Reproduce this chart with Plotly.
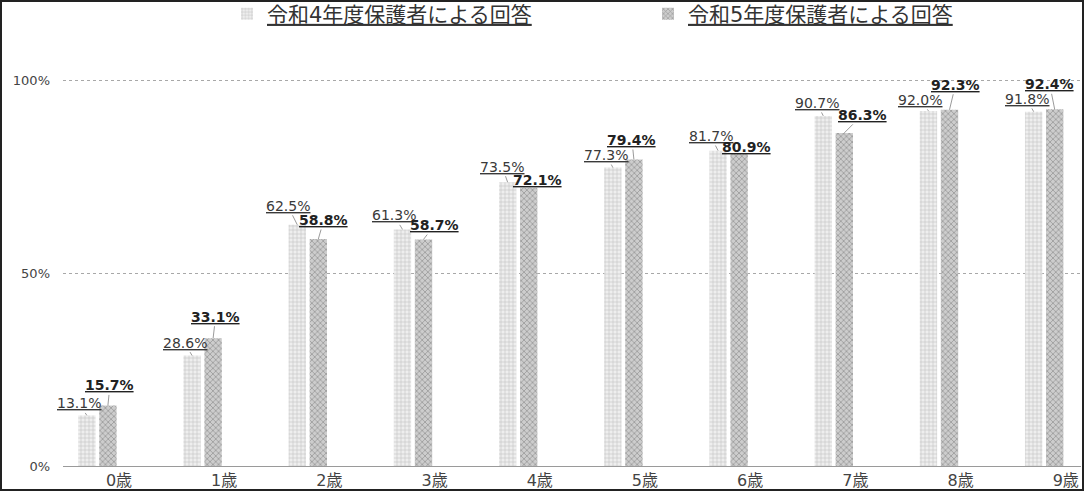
import plotly.graph_objects as go

# ---- data ----
categories = ["0歳", "1歳", "2歳", "3歳", "4歳", "5歳", "6歳", "7歳", "8歳", "9歳"]
series_names = ["令和4年度保護者による回答", "令和5年度保護者による回答"]
r4_values = [13.1, 28.6, 62.5, 61.3, 73.5, 77.3, 81.7, 90.7, 92.0, 91.8]
r5_values = [15.7, 33.1, 58.8, 58.7, 72.1, 79.4, 80.9, 86.3, 92.3, 92.4]
y_tick_values = [0, 50, 100]
y_tick_labels = ["0%", "50%", "100%"]

# ---- label placement (pixel offsets of data labels from bar tops) ----
lab1_dx = [-8, -7.5, -9.5, -8.5, -5.5, -6.5, -7.5, -6.5, -8, -7]
lab1_dy = [-12, -13, -19, -14, -15.6, -12.6, -14.6, -13, -11, -12.7]
lab2_dx = [2, 2.5, 5.5, 11, 8.5, -2, 7.5, 18, 6, -5]
lab2_dy = [-20, -21.5, -19, -14.4, -7.7, -19.5, -7, -18, -25, -25]

FONT = "DejaVu Sans, Noto Sans CJK JP, sans-serif"
idx = list(range(len(categories)))
BAR_W = 0.165
C1 = -0.305   # centre shift of series 1 relative to the category tick
C2 = -0.105   # centre shift of series 2

fig = go.Figure()
fig.add_trace(go.Bar(
    x=idx, y=r4_values, name="<u>" + series_names[0] + "</u>",
    width=BAR_W, offset=C1 - BAR_W / 2,
    marker=dict(color="#e8e8e8", line=dict(width=0),
                pattern=dict(shape="+", fgcolor="#c4c4c4", bgcolor="#eeeeee",
                             size=4, solidity=0.3, fillmode="replace")),
    legend="legend", hoverinfo="skip",
))
fig.add_trace(go.Bar(
    x=idx, y=r5_values, name="<u>" + series_names[1] + "</u>",
    width=BAR_W, offset=C2 - BAR_W / 2,
    marker=dict(color="#bdbdbd", line=dict(width=0),
                pattern=dict(shape="x", fgcolor="#979797", bgcolor="#cdcdcd",
                             size=4, solidity=0.35, fillmode="replace")),
    legend="legend2", hoverinfo="skip",
))

annotations = []
for i, v in enumerate(r4_values):
    annotations.append(dict(
        x=i + C1, y=v, xref="x", yref="y",
        text="<u>%.1f%%</u>" % v, showarrow=True, arrowhead=0,
        arrowwidth=0.8, arrowcolor="#808080", standoff=0,
        ax=lab1_dx[i], ay=lab1_dy[i],
        font=dict(family=FONT, size=14, color="#3a3a3a"),
    ))
for i, v in enumerate(r5_values):
    annotations.append(dict(
        x=i + C2, y=v, xref="x", yref="y",
        text="<b><u>%.1f%%</u></b>" % v, showarrow=True, arrowhead=0,
        arrowwidth=0.8, arrowcolor="#808080", standoff=0,
        ax=lab2_dx[i], ay=lab2_dy[i],
        font=dict(family=FONT, size=14, color="#222222"),
    ))

L, R, T, B = 63, 6, 60, 27
W, H = 1087, 493
pw, ph = W - L - R, H - T - B

def px_x(p):
    return (p - L) / pw

def px_y(p):
    return (H - B - p) / ph

fig.update_layout(
    width=W, height=H,
    margin=dict(l=L, r=R, t=T, b=B, pad=0, autoexpand=False),
    paper_bgcolor="white", plot_bgcolor="white",
    barmode="overlay",
    font=dict(family=FONT, color="#444444"),
    showlegend=True,
    legend=dict(orientation="h", x=px_x(227), y=px_y(14), xanchor="left", yanchor="middle",
                font=dict(family=FONT, size=21, color="#333333"), bgcolor="rgba(0,0,0,0)"),
    legend2=dict(orientation="h", x=px_x(648), y=px_y(14), xanchor="left", yanchor="middle",
                 font=dict(family=FONT, size=21, color="#333333"), bgcolor="rgba(0,0,0,0)"),
    xaxis=dict(
        range=[-0.532, 9.145], tickmode="array", tickvals=idx, ticktext=categories,
        showgrid=False, zeroline=False, showline=True, linecolor="#9a9a9a", linewidth=1,
        ticks="", tickfont=dict(family=FONT, size=16, color="#444444"),
    ),
    yaxis=dict(
        range=[0, (H - B - T) / 3.86], tickmode="array", tickvals=y_tick_values,
        ticktext=y_tick_labels, showgrid=True, gridcolor="#a8a8a8", griddash="dot",
        gridwidth=1, zeroline=False, showline=False, ticks="",
        ticklabelstandoff=12,
        tickfont=dict(family=FONT, size=13, color="#444444"),
    ),
    annotations=annotations,
    shapes=[dict(type="rect", xref="paper", yref="paper",
                 x0=px_x(1), x1=px_x(1083), y0=px_y(490), y1=px_y(1),
                 line=dict(color="#222222", width=2), fillcolor="rgba(0,0,0,0)",
                 layer="above")],
)

fig.write_html("out.html", config={"displayModeBar": False},
               post_script="document.body.style.margin='0';")
